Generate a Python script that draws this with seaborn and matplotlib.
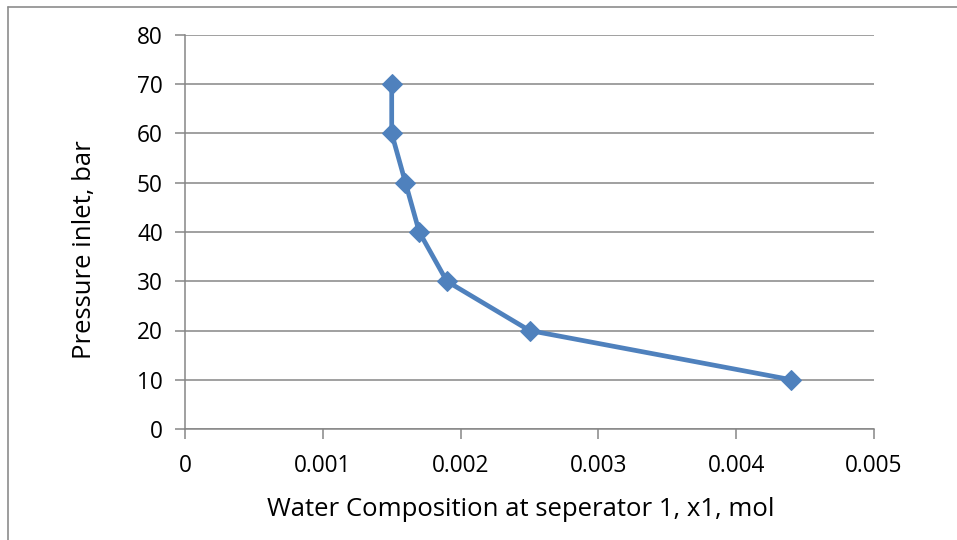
import matplotlib
matplotlib.use("Agg")
import matplotlib.pyplot as plt
import seaborn as sns
import pandas as pd
from matplotlib.lines import Line2D

x_water = [0.0015, 0.0015, 0.0016, 0.0017, 0.0019, 0.0025, 0.0044]
p_inlet = [70, 60, 50, 40, 30, 20, 10]
x_ticks = [0, 0.001, 0.002, 0.003, 0.004, 0.005]
x_tick_labels = ["0", "0.001", "0.002", "0.003", "0.004", "0.005"]
y_ticks = [0, 10, 20, 30, 40, 50, 60, 70, 80]

sns.set_theme(style="white")
plt.rcParams['font.family'] = ['Open Sans', 'DejaVu Sans']

df = pd.DataFrame({"x": x_water, "y": p_inlet})

fig = plt.figure(figsize=(9.57, 5.4), dpi=100)
ax = fig.add_axes([185/957, 1-429/540, (874-185)/957, (429-35)/540])

grid_c = "#868686"
for yv in y_ticks:
    ax.axhline(yv, color=grid_c, lw=1.1, zorder=0)

sns.lineplot(data=df, x="x", y="y", sort=False, estimator=None, ax=ax,
             color="#4F81BD", lw=3.4, marker="D", markersize=10.5,
             markeredgecolor="#4F81BD", zorder=3)

ax.set_xlim(0, 0.005)
ax.set_ylim(0, 80)
ax.set_xticks(x_ticks)
ax.set_xticklabels(x_tick_labels)
ax.set_yticks(y_ticks)
ax.set_yticklabels([str(v) for v in y_ticks])
for s in ["top", "right"]:
    ax.spines[s].set_visible(False)
for s in ["left", "bottom"]:
    ax.spines[s].set_color(grid_c)
    ax.spines[s].set_linewidth(1.1)
ax.tick_params(axis="both", which="major", direction="out", length=7,
               width=1.1, color=grid_c, labelsize=16.3, labelcolor="black",
               left=True, bottom=True)
ax.tick_params(axis="x", pad=11)
ax.tick_params(axis="y", pad=9)
ax.set_xlabel("Water Composition at seperator 1, x1, mol", fontsize=18.5, color="black")
ax.xaxis.set_label_coords(0.487, -0.172)
ax.set_ylabel("Pressure inlet, bar", fontsize=18.5, color="black")
ax.yaxis.set_label_coords(-0.128, 0.454)

# outer chart border (partially visible)
fig.add_artist(Line2D([8/957, 8/957], [0, 1-7/540], transform=fig.transFigure, color="#8c8c8c", lw=1.2))
fig.add_artist(Line2D([8/957, 1], [1-7/540, 1-7/540], transform=fig.transFigure, color="#8c8c8c", lw=1.2))

fig.savefig("out.png", dpi=100)
